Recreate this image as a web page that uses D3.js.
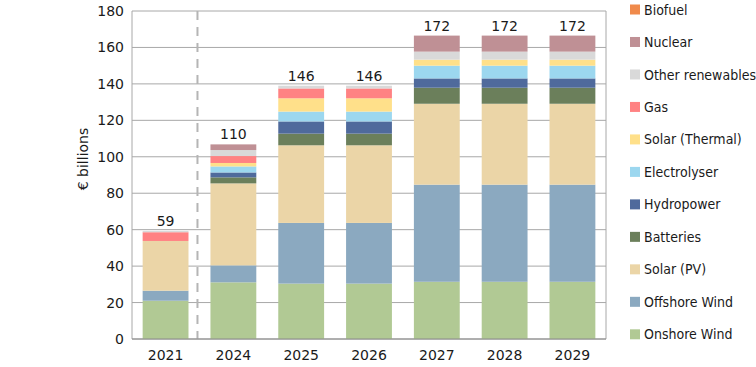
<!DOCTYPE html>
<html>
<head>
<meta charset="utf-8">
<script src="https://cdn.jsdelivr.net/npm/d3@7"></script>
<style>
  body { margin: 0; background: #fff; }
  svg text { font-family: "DejaVu Sans", sans-serif; fill: #1a1a1a; }
  .legend text { font-family: "DejaVu Sans Condensed", "DejaVu Sans", sans-serif; }
</style>
</head>
<body>
<svg width="756" height="367"></svg>
<script>
var years = ["2021", "2024", "2025", "2026", "2027", "2028", "2029"];
var totalLabels = ["59", "110", "146", "146", "172", "172", "172"];

// series, bottom to top
var onshoreWind   = [21.0, 31.1, 30.4, 30.4, 31.4, 31.4, 31.4];
var offshoreWind  = [5.5, 9.3, 33.3, 33.3, 53.3, 53.3, 53.3];
var solarPV       = [27.3, 45.0, 42.6, 42.6, 44.4, 44.4, 44.4];
var batteries     = [0, 3.3, 6.4, 6.4, 8.8, 8.8, 8.8];
var hydropower    = [0, 2.7, 6.7, 6.7, 5.1, 5.1, 5.1];
var electrolyser  = [0, 3.3, 5.4, 5.4, 7.0, 7.0, 7.0];
var solarThermal  = [0, 1.9, 7.3, 7.3, 3.3, 3.3, 3.3];
var gas           = [4.8, 3.8, 5.4, 5.4, 0, 0, 0];
var otherRenew    = [0.7, 3.3, 1.5, 1.5, 4.4, 4.4, 4.4];
var nuclear       = [0, 3.1, 0, 0, 8.8, 8.8, 8.8];
var biofuel       = [0, 0, 0, 0, 0, 0, 0];

var seriesNames = ["Onshore Wind", "Offshore Wind", "Solar (PV)", "Batteries", "Hydropower",
  "Electrolyser", "Solar (Thermal)", "Gas", "Other renewables", "Nuclear", "Biofuel"];
var seriesValues = [onshoreWind, offshoreWind, solarPV, batteries, hydropower,
  electrolyser, solarThermal, gas, otherRenew, nuclear, biofuel];
var colors = ["#b1c994", "#8ba9c0", "#ebd5a7", "#6b7f5b", "#4f6a9c",
  "#9cd7ef", "#ffe08a", "#ff8283", "#d9d9d9", "#bf9095", "#f08a4b"];

var yTicks = [0, 20, 40, 60, 80, 100, 120, 140, 160, 180];

var rows = years.map((yr, i) => {
  var r = {year: yr};
  seriesNames.forEach((s, j) => { r[s] = seriesValues[j][i]; });
  return r;
});

var plotL = 132, plotR = 606, plotT = 11, plotB = 339;

var x = d3.scaleBand()
  .domain(years)
  .range([plotL, plotR])
  .paddingInner(0.324)
  .paddingOuter(0.157);

var y = d3.scaleLinear()
  .domain([0, 180])
  .range([plotB, plotT]);

var svg = d3.select("svg");

// grid
svg.append("g")
  .selectAll("line")
  .data(yTicks)
  .join("line")
  .attr("x1", plotL).attr("x2", plotR)
  .attr("y1", d => y(d)).attr("y2", d => y(d))
  .attr("stroke", "#a8a8a8")
  .attr("stroke-width", 1);

// dashed separator
var sepX = (x("2021") + x.bandwidth() + x("2024")) / 2 - 2;
svg.append("line")
  .attr("x1", sepX).attr("x2", sepX)
  .attr("y1", plotT).attr("y2", plotB)
  .attr("stroke", "#b5b5b5")
  .attr("stroke-width", 2)
  .attr("stroke-dasharray", "9,7");

var stack = d3.stack().keys(seriesNames)(rows);

svg.append("g")
  .selectAll("g")
  .data(stack)
  .join("g")
  .attr("fill", (d, i) => colors[i])
  .selectAll("rect")
  .data(d => d)
  .join("rect")
  .attr("x", d => x(d.data.year))
  .attr("width", x.bandwidth())
  .attr("y", d => y(d[1]))
  .attr("height", d => y(d[0]) - y(d[1]));

// axes box
svg.append("line").attr("x1", plotL).attr("x2", plotL).attr("y1", plotT).attr("y2", plotB)
  .attr("stroke", "#a8a8a8");
svg.append("line").attr("x1", plotR).attr("x2", plotR).attr("y1", plotT).attr("y2", plotB)
  .attr("stroke", "#a8a8a8");
svg.append("line").attr("x1", plotL).attr("x2", plotR).attr("y1", plotB).attr("y2", plotB)
  .attr("stroke", "#8a8a8a");

var yAxis = d3.axisLeft(y).tickValues(yTicks).tickSize(0).tickPadding(8);
svg.append("g")
  .attr("transform", `translate(${plotL}, 0)`)
  .call(yAxis)
  .call(g => g.select(".domain").remove())
  .selectAll("text")
  .style("font-size", "14px")
  .attr("fill", "#1a1a1a");

var xAxis = d3.axisBottom(x).tickSize(0).tickPadding(11);
svg.append("g")
  .attr("transform", `translate(0, ${plotB})`)
  .call(xAxis)
  .call(g => g.select(".domain").remove())
  .selectAll("text")
  .style("font-size", "14px")
  .attr("fill", "#1a1a1a");

// totals
var tops = stack[stack.length - 1];
svg.append("g")
  .selectAll("text")
  .data(tops)
  .join("text")
  .attr("x", d => x(d.data.year) + x.bandwidth() / 2)
  .attr("y", d => y(d[1]) - 5)
  .attr("text-anchor", "middle")
  .style("font-size", "14px")
  .text((d, i) => totalLabels[i]);

// y title
svg.append("text")
  .attr("transform", "translate(88, 159) rotate(-90)")
  .attr("text-anchor", "middle")
  .style("font-size", "14px")
  .text("€ billions");

// legend, top to bottom
var legendItems = seriesNames.map((s, i) => ({name: s, color: colors[i]})).reverse();
var lg = svg.append("g").attr("class", "legend");
var item = lg.selectAll("g")
  .data(legendItems)
  .join("g")
  .attr("transform", (d, i) => `translate(630, ${9.5 + i * 32.48})`);
item.append("rect")
  .attr("x", 0).attr("y", -5)
  .attr("width", 10).attr("height", 10)
  .attr("fill", d => d.color);
item.append("text")
  .attr("x", 14)
  .attr("dy", "0.36em")
  .style("font-size", "14px")
  .text(d => d.name);
</script>
</body>
</html>
